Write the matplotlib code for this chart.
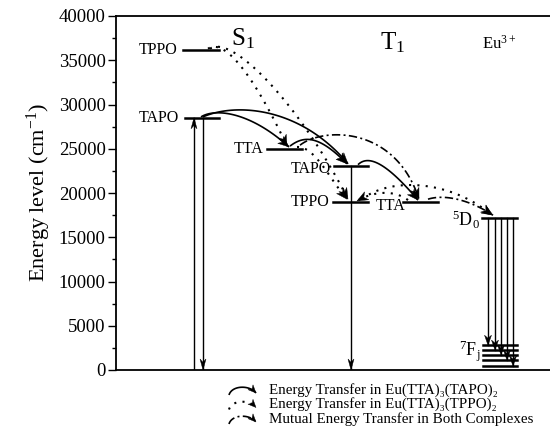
import numpy as np
import matplotlib.pyplot as plt
from matplotlib.patches import Polygon

plt.rcParams['font.family'] = ['Liberation Serif', 'DejaVu Serif']
plt.rcParams['mathtext.fontset'] = 'custom'
plt.rcParams['mathtext.rm'] = 'Liberation Serif'
plt.rcParams['mathtext.it'] = 'Liberation Serif:italic'

# energy levels (cm-1)
s1_names = ["TPPO", "TAPO", "TTA"]
s1_energy = [36200, 28500, 25000]
t1_names = ["TAPO", "TPPO", "TTA"]
t1_energy = [23100, 19000, 19000]
eu_5d0 = 17200
eu_7fj = [2800, 2250, 1700, 1100, 450]

# horizontal extent of every level bar (x axis is just a layout axis)
s1_x = [(183, 219), (185, 219), (267, 302)]
t1_x = [(334, 368), (333, 368), (403, 438)]
eu_x = (482, 517)
fj_x = (483, 517)

fig = plt.figure(figsize=(5.5, 4.33), dpi=100)
ax = fig.add_axes([116/550, 1-370/433, 1-116/550, (370-16)/433])
ax.set_xlim(116, 550)
ax.set_ylim(0, 40000)

ax.spines['right'].set_visible(False)
for side in ['left', 'top', 'bottom']:
    ax.spines[side].set_linewidth(1.3)
ax.set_xticks([])
ax.set_yticks(np.arange(0, 40001, 5000))
ax.set_yticks(np.arange(2500, 40000, 5000), minor=True)
ax.tick_params(axis='y', which='major', direction='out', length=5.5, width=1, labelsize=13.5, pad=2)
ax.tick_params(axis='y', which='minor', direction='out', length=3, width=1)
ax.set_ylabel("Energy level (cm$^{-1}$)", fontsize=16, labelpad=4)

# level bars
lw_level = 1.8
for (x0, x1), e in zip(s1_x, s1_energy):
    ax.plot([x0, x1], [e, e], color='k', lw=lw_level)
for (x0, x1), e in zip(t1_x, t1_energy):
    ax.plot([x0, x1], [e, e], color='k', lw=lw_level)
ax.plot(eu_x, [eu_5d0, eu_5d0], color='k', lw=lw_level)
for e in eu_7fj:
    ax.plot(fj_x, [e, e], color='k', lw=lw_level)

# level labels
fs = 11.5
ax.text(177, s1_energy[0], s1_names[0], ha='right', va='center', fontsize=fs)
ax.text(179, s1_energy[1], s1_names[1], ha='right', va='center', fontsize=fs)
ax.text(263, s1_energy[2], s1_names[2], ha='right', va='center', fontsize=fs)
ax.text(331, t1_energy[0] - 400, t1_names[0], ha='right', va='center', fontsize=fs)
ax.text(329, t1_energy[1], t1_names[1], ha='right', va='center', fontsize=fs)
ax.text(391, t1_energy[2] - 500, t1_names[2], ha='center', va='center', fontsize=fs)
ax.text(480, eu_5d0 - 300, "$^5$D$_0$", ha='right', va='center', fontsize=13)
ax.text(480, 2100, "$^7$F$_\\mathrm{j}$", ha='right', va='center', fontsize=13)

ax.text(243, 37400, "S$_1$", ha='center', va='center', fontsize=18)
ax.text(393, 37000, "T$_1$", ha='center', va='center', fontsize=18)
ax.text(499, 36900, "Eu$^{3+}$", ha='center', va='center', fontsize=12)


# filled arrow head drawn in pixel space so that it keeps its shape
def head(a, tip, prev, L=10, W=8):
    T = a.transData
    p1 = T.transform(tip)
    p0 = T.transform(prev)
    u = (p1 - p0) / np.hypot(*(p1 - p0))
    n = np.array([-u[1], u[0]])
    base = p1 - L * u
    verts = [p1, base + W / 2 * n, p1 - 0.7 * L * u, base - W / 2 * n]
    a.add_patch(Polygon(T.inverted().transform(verts), closed=True,
                        facecolor='k', edgecolor='k', lw=0.3, zorder=4))


# vertical absorption / emission arrows
def vert(x, y0, y1, L=11, W=6):
    ax.plot([x, x], [y0, y1], color='k', lw=1.0)
    head(ax, (x, y1), (x, y0), L=L, W=W)


vert(194, 0, s1_energy[1])
vert(203, s1_energy[1], 0)
vert(351, t1_energy[0], 0)
for x, e in zip([488, 495, 501, 507, 513], eu_7fj):
    vert(x, eu_5d0, e, L=10, W=7)


# energy transfer arcs (cubic bezier)
def bez(p, n=80):
    p = np.asarray(p, float)
    t = np.linspace(0, 1, n)[:, None]
    return ((1-t)**3*p[0] + 3*t*(1-t)**2*p[1] + 3*t**2*(1-t)*p[2] + t**3*p[3])


def transfer(a, p, ls, lw=1.2, L=11, W=9):
    pts = bez(p)
    a.plot(pts[:, 0], pts[:, 1], color='k', lw=lw, ls=ls, solid_capstyle='butt')
    head(a, pts[-1], pts[-8], L=L, W=W)


solid = '-'
dotted = (0, (1, 3))
dashdot = (0, (5, 2, 1.2, 2))

# Eu(TTA)3(TAPO)2
transfer(ax, [(201, 28600), (215, 29600), (250, 29200), (289, 25200)], solid)
transfer(ax, [(203, 28600), (235, 30200), (300, 29800), (348, 23300)], solid)
transfer(ax, [(290, 25300), (305, 26600), (320, 26400), (347, 23300)], solid)
transfer(ax, [(358, 23200), (368, 24300), (385, 23600), (418, 19200)], solid)

# Eu(TTA)3(TPPO)2
transfer(ax, [(208, 36300), (225, 37600), (255, 33000), (287, 25300)], dotted, lw=1.5)
transfer(ax, [(210, 36300), (232, 38000), (300, 30000), (348, 19300)], dotted, lw=1.5)
transfer(ax, [(297, 25200), (315, 25300), (330, 21500), (347, 19300)], dotted, lw=1.5)
transfer(ax, [(408, 19200), (395, 20300), (375, 20300), (357, 19100)], dotted, lw=1.5)
transfer(ax, [(362, 19300), (390, 21800), (450, 21500), (492, 17500)], dotted, lw=1.5)

# mutual
transfer(ax, [(300, 25400), (322, 27400), (395, 27700), (419, 19300)], dashdot)
transfer(ax, [(428, 19300), (445, 19900), (470, 19200), (493, 17500)], dashdot)

# legend under the axes, in pixel units
lax = fig.add_axes([0, 0, 1, 60/433])
lax.set_xlim(0, 550)
lax.set_ylim(433, 373)
lax.axis('off')
legend_text = ["Energy Transfer in Eu(TTA)\u2083(TAPO)\u2082",
               "Energy Transfer in Eu(TTA)\u2083(TPPO)\u2082",
               "Mutual Energy Transfer in Both Complexes"]
legend_ls = [solid, dotted, dashdot]
for i, (txt, ls) in enumerate(zip(legend_text, legend_ls)):
    y = 390 + i * 14.5
    transfer(lax, [(229, y + 5), (232, y - 5), (250, y - 5), (256, y + 3)], ls,
             lw=1.5 if ls == dotted else 1.2, L=8, W=7)
    lax.text(269, y, txt, ha='left', va='center', fontsize=10.8)

fig.savefig('out.png', dpi=100)
